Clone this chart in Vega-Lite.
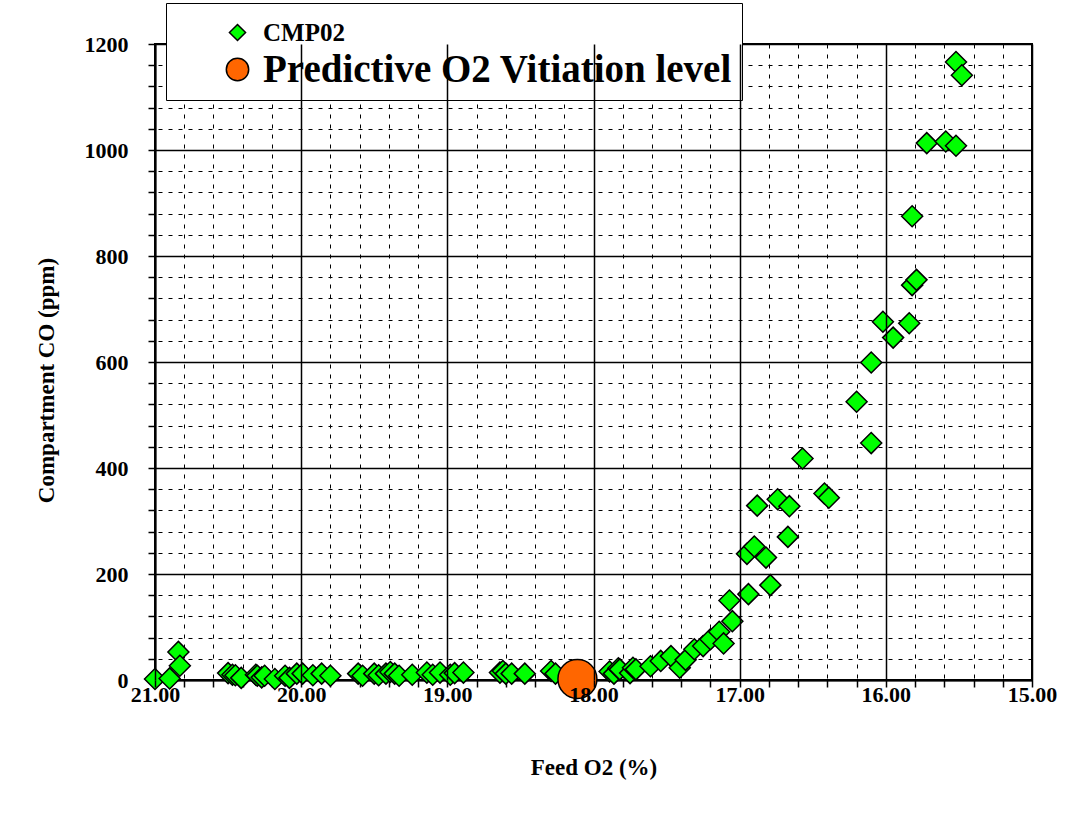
{
  "$schema": "https://vega.github.io/schema/vega-lite/v6.json",
  "width": 877,
  "height": 636,
  "autosize": "none",
  "padding": {"left": 155, "top": 44, "right": 44, "bottom": 134},
  "background": "white",
  "config": {
    "view": {"stroke": "black", "strokeWidth": 2},
    "axis": {
      "labelFont": "Liberation Serif",
      "labelFontWeight": "bold",
      "labelFontSize": 22,
      "labelColor": "black",
      "titleFont": "Liberation Serif",
      "titleFontWeight": "bold",
      "titleFontSize": 23,
      "titleColor": "black",
      "tickColor": "black",
      "domainColor": "black"
    }
  },
  "data": {
    "values": [
      {"o2": 21.00, "co": 2, "series": "CMP02"},
      {"o2": 20.90, "co": 3, "series": "CMP02"},
      {"o2": 20.84, "co": 53, "series": "CMP02"},
      {"o2": 20.83, "co": 27, "series": "CMP02"},
      {"o2": 20.50, "co": 13, "series": "CMP02"},
      {"o2": 20.47, "co": 10, "series": "CMP02"},
      {"o2": 20.45, "co": 9, "series": "CMP02"},
      {"o2": 20.41, "co": 4, "series": "CMP02"},
      {"o2": 20.31, "co": 10, "series": "CMP02"},
      {"o2": 20.30, "co": 8, "series": "CMP02"},
      {"o2": 20.27, "co": 5, "series": "CMP02"},
      {"o2": 20.25, "co": 8, "series": "CMP02"},
      {"o2": 20.18, "co": 2, "series": "CMP02"},
      {"o2": 20.11, "co": 8, "series": "CMP02"},
      {"o2": 20.08, "co": 4, "series": "CMP02"},
      {"o2": 20.03, "co": 12, "series": "CMP02"},
      {"o2": 19.99, "co": 12, "series": "CMP02"},
      {"o2": 19.92, "co": 9, "series": "CMP02"},
      {"o2": 19.86, "co": 12, "series": "CMP02"},
      {"o2": 19.80, "co": 8, "series": "CMP02"},
      {"o2": 19.61, "co": 12, "series": "CMP02"},
      {"o2": 19.58, "co": 8, "series": "CMP02"},
      {"o2": 19.50, "co": 12, "series": "CMP02"},
      {"o2": 19.47, "co": 9, "series": "CMP02"},
      {"o2": 19.42, "co": 12, "series": "CMP02"},
      {"o2": 19.39, "co": 15, "series": "CMP02"},
      {"o2": 19.36, "co": 12, "series": "CMP02"},
      {"o2": 19.33, "co": 8, "series": "CMP02"},
      {"o2": 19.24, "co": 10, "series": "CMP02"},
      {"o2": 19.14, "co": 14, "series": "CMP02"},
      {"o2": 19.10, "co": 10, "series": "CMP02"},
      {"o2": 19.05, "co": 14, "series": "CMP02"},
      {"o2": 18.98, "co": 10, "series": "CMP02"},
      {"o2": 18.95, "co": 13, "series": "CMP02"},
      {"o2": 18.89, "co": 14, "series": "CMP02"},
      {"o2": 18.64, "co": 14, "series": "CMP02"},
      {"o2": 18.62, "co": 17, "series": "CMP02"},
      {"o2": 18.60, "co": 12, "series": "CMP02"},
      {"o2": 18.56, "co": 12, "series": "CMP02"},
      {"o2": 18.47, "co": 12, "series": "CMP02"},
      {"o2": 18.29, "co": 17, "series": "CMP02"},
      {"o2": 18.26, "co": 12, "series": "CMP02"},
      {"o2": 17.89, "co": 16, "series": "CMP02"},
      {"o2": 17.86, "co": 12, "series": "CMP02"},
      {"o2": 17.83, "co": 22, "series": "CMP02"},
      {"o2": 17.82, "co": 20, "series": "CMP02"},
      {"o2": 17.75, "co": 13, "series": "CMP02"},
      {"o2": 17.73, "co": 23, "series": "CMP02"},
      {"o2": 17.71, "co": 20, "series": "CMP02"},
      {"o2": 17.61, "co": 26, "series": "CMP02"},
      {"o2": 17.54, "co": 36, "series": "CMP02"},
      {"o2": 17.47, "co": 45, "series": "CMP02"},
      {"o2": 17.41, "co": 23, "series": "CMP02"},
      {"o2": 17.37, "co": 38, "series": "CMP02"},
      {"o2": 17.31, "co": 58, "series": "CMP02"},
      {"o2": 17.25, "co": 64, "series": "CMP02"},
      {"o2": 17.20, "co": 77, "series": "CMP02"},
      {"o2": 17.14, "co": 91, "series": "CMP02"},
      {"o2": 17.11, "co": 69, "series": "CMP02"},
      {"o2": 17.05, "co": 111, "series": "CMP02"},
      {"o2": 17.07, "co": 150, "series": "CMP02"},
      {"o2": 16.94, "co": 162, "series": "CMP02"},
      {"o2": 16.79, "co": 179, "series": "CMP02"},
      {"o2": 16.95, "co": 238, "series": "CMP02"},
      {"o2": 16.90, "co": 252, "series": "CMP02"},
      {"o2": 16.82, "co": 231, "series": "CMP02"},
      {"o2": 16.88, "co": 329, "series": "CMP02"},
      {"o2": 16.74, "co": 341, "series": "CMP02"},
      {"o2": 16.66, "co": 328, "series": "CMP02"},
      {"o2": 16.67, "co": 270, "series": "CMP02"},
      {"o2": 16.57, "co": 418, "series": "CMP02"},
      {"o2": 16.42, "co": 352, "series": "CMP02"},
      {"o2": 16.39, "co": 344, "series": "CMP02"},
      {"o2": 16.20, "co": 525, "series": "CMP02"},
      {"o2": 16.10, "co": 447, "series": "CMP02"},
      {"o2": 16.10, "co": 599, "series": "CMP02"},
      {"o2": 16.02, "co": 676, "series": "CMP02"},
      {"o2": 15.95, "co": 646, "series": "CMP02"},
      {"o2": 15.84, "co": 673, "series": "CMP02"},
      {"o2": 15.82, "co": 745, "series": "CMP02"},
      {"o2": 15.79, "co": 755, "series": "CMP02"},
      {"o2": 15.82, "co": 875, "series": "CMP02"},
      {"o2": 15.72, "co": 1013, "series": "CMP02"},
      {"o2": 15.59, "co": 1016, "series": "CMP02"},
      {"o2": 15.52, "co": 1008, "series": "CMP02"},
      {"o2": 15.52, "co": 1166, "series": "CMP02"},
      {"o2": 15.48, "co": 1141, "series": "CMP02"},
      {"o2": 18.11, "co": 2, "series": "Predictive O2 Vitiation level"}
    ]
  },
  "resolve": {"axis": {"x": "independent", "y": "independent"}},
  "layer": [
    {
      "transform": [{"filter": "datum.series === 'CMP02'"}],
      "mark": {"type": "point", "filled": true, "size": 441, "stroke": "black", "strokeWidth": 1.5, "opacity": 1},
      "encoding": {
        "x": {
          "field": "o2", "type": "quantitative",
          "scale": {"domain": [15, 21], "reverse": true, "nice": false, "zero": false},
          "axis": {
            "orient": "bottom",
            "title": "Feed O2 (%)",
            "values": [21, 20, 19, 18, 17, 16, 15],
            "format": ".2f",
            "labelFlush": false,
            "labelOverlap": false,
            "grid": true, "gridColor": "black", "gridWidth": 1.5, "gridOpacity": 1,
            "domain": false,
            "zindex": 1,
            "tickSize": 7, "tickWidth": 1.5,
            "labelPadding": -3,
            "titlePadding": 51
          }
        },
        "y": {
          "field": "co", "type": "quantitative",
          "scale": {"domain": [0, 1200], "nice": false},
          "axis": {
            "orient": "left",
            "title": "Compartment CO (ppm)",
            "titleY": 336,
            "values": [0, 200, 400, 600, 800, 1000, 1200],
            "format": "d",
            "labelFlush": false,
            "labelOverlap": false,
            "grid": true, "gridColor": "black", "gridWidth": 1.5, "gridOpacity": 1,
            "domain": true, "domainWidth": 2,
            "tickSize": 7, "tickWidth": 1.5,
            "labelPadding": 20,
            "titlePadding": 26
          }
        },
        "color": {
          "field": "series", "type": "nominal",
          "scale": {"domain": ["CMP02", "Predictive O2 Vitiation level"], "range": ["#00FF00", "#FF6600"]},
          "legend": {
            "orient": "none",
            "legendX": 11,
            "legendY": -41,
            "title": " ",
            "titleOrient": "left",
            "titlePadding": 42,
            "padding": 10,
            "strokeColor": "black",
            "fillColor": "white",
            "labelFont": "Liberation Serif",
            "labelFontWeight": "bold",
            "labelColor": "black",
            "labelFontSize": {"expr": "datum.value === 'CMP02' ? 25 : 39"},
            "symbolSize": {"expr": "datum.value === 'CMP02' ? 260 : 500"},
            "symbolStrokeColor": "black",
            "symbolStrokeWidth": 1.5,
            "labelOffset": 6,
            "rowPadding": 4,
            "labelLimit": 0
          }
        },
        "shape": {
          "field": "series", "type": "nominal",
          "scale": {"domain": ["CMP02", "Predictive O2 Vitiation level"], "range": ["diamond", "circle"]}
        }
      }
    },
    {
      "transform": [{"filter": "datum.series !== 'CMP02'"}],
      "mark": {"type": "point", "filled": true, "size": 1520, "stroke": "black", "strokeWidth": 1.5, "opacity": 1},
      "encoding": {
        "x": {
          "field": "o2", "type": "quantitative",
          "scale": {"domain": [15, 21], "reverse": true, "nice": false, "zero": false},
          "axis": {
            "orient": "bottom",
            "title": null,
            "values": [20.8, 20.6, 20.4, 20.2, 19.8, 19.6, 19.4, 19.2, 18.8, 18.6, 18.4, 18.2, 17.8, 17.6, 17.4, 17.2, 16.8, 16.6, 16.4, 16.2, 15.8, 15.6, 15.4, 15.2],
            "labels": false,
            "domain": true, "domainWidth": 2,
            "grid": true, "gridColor": "black", "gridWidth": 1, "gridOpacity": 1, "gridDash": [4, 6],
            "tickSize": 7, "tickWidth": 1.5
          }
        },
        "y": {
          "field": "co", "type": "quantitative",
          "scale": {"domain": [0, 1200], "nice": false},
          "axis": {
            "orient": "left",
            "title": null,
            "values": [40, 80, 120, 160, 240, 280, 320, 360, 440, 480, 520, 560, 640, 680, 720, 760, 840, 880, 920, 960, 1040, 1080, 1120, 1160],
            "labels": false,
            "domain": false,
            "grid": true, "gridColor": "black", "gridWidth": 1, "gridOpacity": 1, "gridDash": [4, 6],
            "tickSize": 7, "tickWidth": 1.5
          }
        },
        "color": {
          "field": "series", "type": "nominal",
          "scale": {"domain": ["CMP02", "Predictive O2 Vitiation level"], "range": ["#00FF00", "#FF6600"]}
        },
        "shape": {
          "field": "series", "type": "nominal",
          "scale": {"domain": ["CMP02", "Predictive O2 Vitiation level"], "range": ["diamond", "circle"]}
        }
      }
    }
  ]
}
